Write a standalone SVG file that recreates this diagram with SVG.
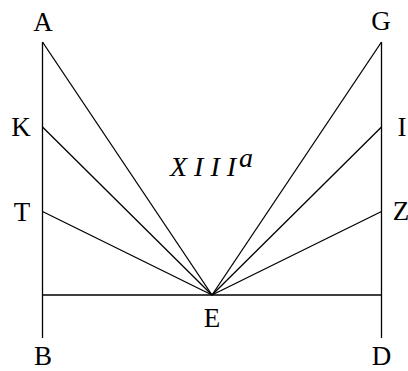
<svg xmlns="http://www.w3.org/2000/svg" width="408" height="371" viewBox="0 0 408 371">
<style>
.l{stroke:#000;stroke-width:1.3;fill:none}
.t{font-family:"Liberation Serif","DejaVu Serif",serif;font-size:27px;fill:#000;text-anchor:middle}
.it{font-family:"Liberation Serif","DejaVu Serif",serif;font-style:italic;font-size:28px;fill:#000}
</style>
<rect width="408" height="371" fill="#fff"/>
<g id="connectors">
<line class="l" x1="42.5" y1="42" x2="42.5" y2="338"/>
<line class="l" x1="381.5" y1="42" x2="381.5" y2="338"/>
<line class="l" x1="42.5" y1="295" x2="381.5" y2="295"/>
<line class="l" x1="42.5" y1="42" x2="212" y2="295"/>
<line class="l" x1="42.5" y1="127" x2="212" y2="295"/>
<line class="l" x1="42.5" y1="211.5" x2="212" y2="295"/>
<line class="l" x1="381.5" y1="42" x2="212" y2="295"/>
<line class="l" x1="381.5" y1="127" x2="212" y2="295"/>
<line class="l" x1="381.5" y1="211.5" x2="212" y2="295"/>
</g>
<g id="A"><text class="t" x="43" y="30.5">A</text></g>
<g id="G"><text class="t" x="381" y="30">G</text></g>
<g id="K"><text class="t" x="21" y="136">K</text></g>
<g id="I"><text class="t" x="402" y="135.5">I</text></g>
<g id="T"><text class="t" x="22" y="220.5">T</text></g>
<g id="Z"><text class="t" x="401" y="220">Z</text></g>
<g id="E"><text class="t" x="212" y="326.5">E</text></g>
<g id="B"><text class="t" x="43" y="365">B</text></g>
<g id="D"><text class="t" x="381.5" y="365">D</text></g>
<g id="label"><text class="it" x="170" y="175.5" textLength="66" lengthAdjust="spacing">XIII</text><text class="it" x="239" y="167" font-size="18">a</text></g>
</svg>
